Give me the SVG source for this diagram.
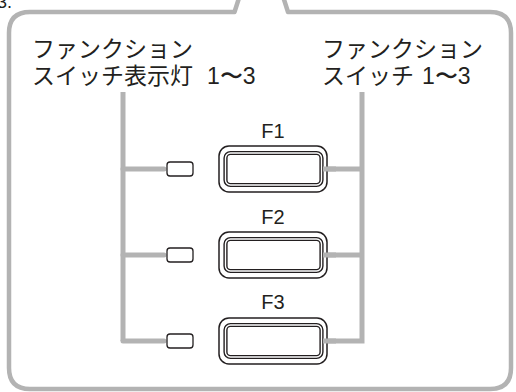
<svg xmlns="http://www.w3.org/2000/svg" width="516" height="392" viewBox="0 0 516 392">
<style>
.frame{fill:none;stroke:#b3b3b3;stroke-width:4.5;stroke-linejoin:round}
.wire{fill:none;stroke:#b3b3b3;stroke-width:5}
.lead{fill:none;stroke:#b3b3b3;stroke-width:5;stroke-linecap:round}
.outer{fill:#fff;stroke:#231f20;stroke-width:1.5}
.dbl{fill:none;stroke:#231f20;stroke-width:4.2}
.dblw{fill:none;stroke:#fff;stroke-width:1.4}
.lamp{fill:#fff;stroke:#231f20;stroke-width:1.3}
.jp{font-family:"Noto Sans CJK JP","Liberation Sans",sans-serif;font-size:23px;fill:#231f20}
.num{font-family:"Liberation Sans",Arial,sans-serif;fill:#231f20}
.lbl{font-family:"Liberation Sans",Arial,sans-serif;font-size:20px;fill:#231f20;text-anchor:middle}
</style>
<text class="num" x="-3" y="8" font-size="18">3.</text>
<path class="frame" d="M239,-2 L234.5,12 L30,12 Q9,12 9,33 L9,368 Q9,389 30,389 L490,389 Q511,389 511,368 L511,33 Q511,12 490,12 L288,12 L283.5,-2"/>
<g id="label-lamps">
<text class="jp" x="32" y="57">ファンクション</text>
<text class="jp" x="32" y="84">スイッチ表示灯<tspan class="num" x="207" font-size="23">1〜3</tspan></text>
</g>
<g id="label-switches">
<text class="jp" x="322" y="57">ファンクション</text>
<text class="jp" x="322" y="84">スイッチ<tspan class="num" x="422" font-size="23">1〜3</tspan></text>
</g>
<g id="connectors">
<path class="wire" d="M123,92 L123,341"/>
<path class="lead" d="M123,169 L164,169 M123,255 L164,255 M123,341 L164,341"/>
<path class="wire" d="M362,92 L362,341 L323,341 M362,169 L323,169 M362,255 L323,255"/>
</g>
<g id="lamp1"><rect class="lamp" x="167" y="162" width="26" height="14" rx="3"/></g>
<g id="lamp2"><rect class="lamp" x="167" y="248" width="26" height="14" rx="3"/></g>
<g id="lamp3"><rect class="lamp" x="167" y="334" width="26" height="14" rx="3"/></g>
<g id="F1">
<text class="lbl" x="273" y="138">F1</text>
<rect class="outer" x="219" y="146" width="108" height="46" rx="10"/>
<rect class="dbl" x="225.5" y="153" width="96" height="32" rx="5"/>
<rect class="dblw" x="225.5" y="153" width="96" height="32" rx="5"/>
</g>
<g id="F2">
<text class="lbl" x="273" y="224">F2</text>
<rect class="outer" x="219" y="232" width="108" height="46" rx="10"/>
<rect class="dbl" x="225.5" y="239" width="96" height="32" rx="5"/>
<rect class="dblw" x="225.5" y="239" width="96" height="32" rx="5"/>
</g>
<g id="F3">
<text class="lbl" x="273" y="309">F3</text>
<rect class="outer" x="219" y="318" width="108" height="46" rx="10"/>
<rect class="dbl" x="225.5" y="325" width="96" height="32" rx="5"/>
<rect class="dblw" x="225.5" y="325" width="96" height="32" rx="5"/>
</g>
<path class="wire" d="M323,169 L336,169 M323,255 L336,255 M323,341 L336,341"/>
</svg>
